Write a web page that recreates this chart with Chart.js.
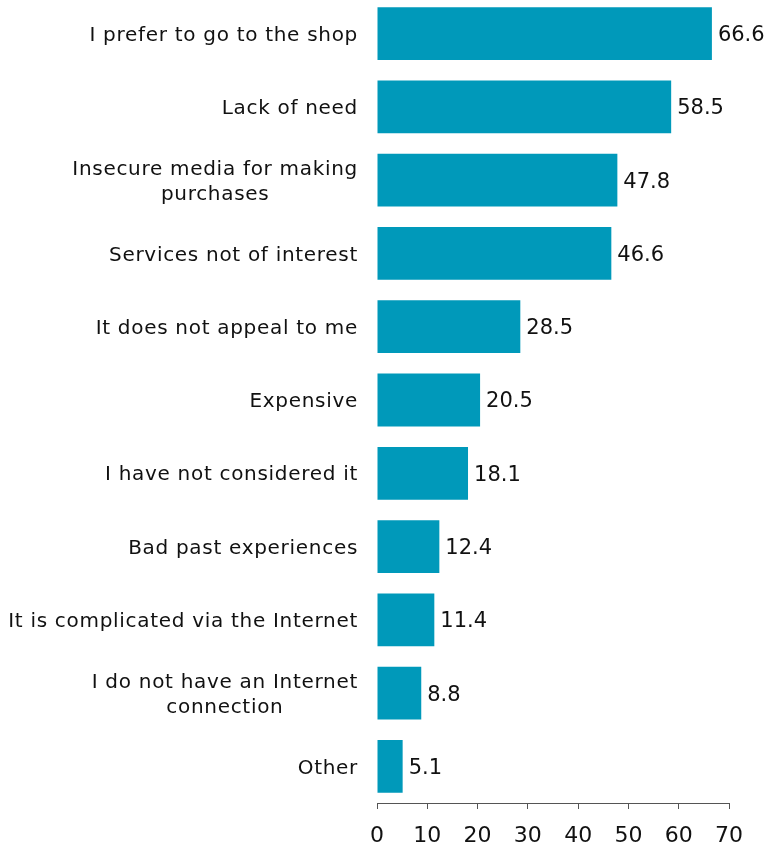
<!DOCTYPE html>
<html>
<head>
<meta charset="utf-8">
<script src="https://cdn.jsdelivr.net/npm/chart.js@4/dist/chart.umd.min.js"></script>
<style>
  html, body { margin: 0; padding: 0; background: #fff; overflow: hidden; }
  #wrap { position: absolute; left: 0; top: -3px; width: 769px; height: 854px; }
</style>
</head>
<body>
<div id="wrap"><canvas id="chart"></canvas></div>
<script>
const categories = [
  ['I prefer to go to the shop'],
  ['Lack of need'],
  ['Insecure media for making', 'purchases'],
  ['Services not of interest'],
  ['It does not appeal to me'],
  ['Expensive'],
  ['I have not considered it'],
  ['Bad past experiences'],
  ['It is complicated via the Internet'],
  ['I do not have an Internet', 'connection'],
  ['Other']
];
const values = [66.6, 58.5, 47.8, 46.6, 28.5, 20.5, 18.1, 12.4, 11.4, 8.8, 5.1];
const xTicks = [0, 10, 20, 30, 40, 50, 60, 70];

const FONT = '"DejaVu Sans", Verdana, sans-serif';
const TEXT = '#111';

// category names, right edge fixed, multi-line names centred on each other
const categoryLabels = {
  id: 'categoryLabels',
  afterDraw(chart) {
    const { ctx, scales: { y } } = chart;
    const right = y.right - 19;
    const lineH = 25;
    ctx.save();
    ctx.font = '20px ' + FONT;
    ctx.letterSpacing = '0.7px';
    ctx.fillStyle = TEXT;
    ctx.textAlign = 'center';
    ctx.textBaseline = 'middle';
    categories.forEach((lines, i) => {
      const yc = y.getPixelForValue(i) + 2;
      const w = Math.max(...lines.map(l => ctx.measureText(l).width));
      const cx = right - w / 2;
      const y0 = yc - (lines.length - 1) * lineH / 2;
      lines.forEach((l, j) => ctx.fillText(l, cx, y0 + j * lineH));
    });
    ctx.restore();
  }
};

// value printed just past the end of each bar
const valueLabels = {
  id: 'valueLabels',
  afterDatasetsDraw(chart) {
    const { ctx } = chart;
    const meta = chart.getDatasetMeta(0);
    ctx.save();
    ctx.font = '21px ' + FONT;
    ctx.fillStyle = TEXT;
    ctx.textAlign = 'left';
    ctx.textBaseline = 'middle';
    meta.data.forEach((bar, i) => {
      ctx.fillText(values[i].toFixed(1), bar.x + 6, bar.y + 2);
    });
    ctx.restore();
  }
};

new Chart(document.getElementById('chart'), {
  type: 'bar',
  data: {
    labels: categories.map(c => c.join(' ')),
    datasets: [{
      data: values,
      backgroundColor: '#0099ba',
      barPercentage: 0.72,
      categoryPercentage: 1.0
    }]
  },
  options: {
    indexAxis: 'y',
    responsive: true,
    maintainAspectRatio: false,
    animation: false,
    layout: { padding: { left: 0, right: 40, top: 0, bottom: 0 } },
    plugins: {
      legend: { display: false },
      tooltip: { enabled: false }
    },
    scales: {
      x: {
        min: 0,
        max: 70,
        afterBuildTicks: s => { s.ticks = xTicks.map(v => ({ value: v })); },
        afterFit: s => { s.height = 48; },
        border: { display: true, color: '#555', width: 1 },
        grid: { drawOnChartArea: false, drawTicks: true, tickLength: 6, color: '#555' },
        ticks: {
          color: TEXT,
          padding: 14,
          font: { family: FONT, size: 22 },
          maxRotation: 0
        }
      },
      y: {
        afterFit: s => { s.width = 377; },
        border: { display: false },
        grid: { display: false },
        ticks: { display: false }
      }
    }
  },
  plugins: [categoryLabels, valueLabels]
});
</script>
</body>
</html>
